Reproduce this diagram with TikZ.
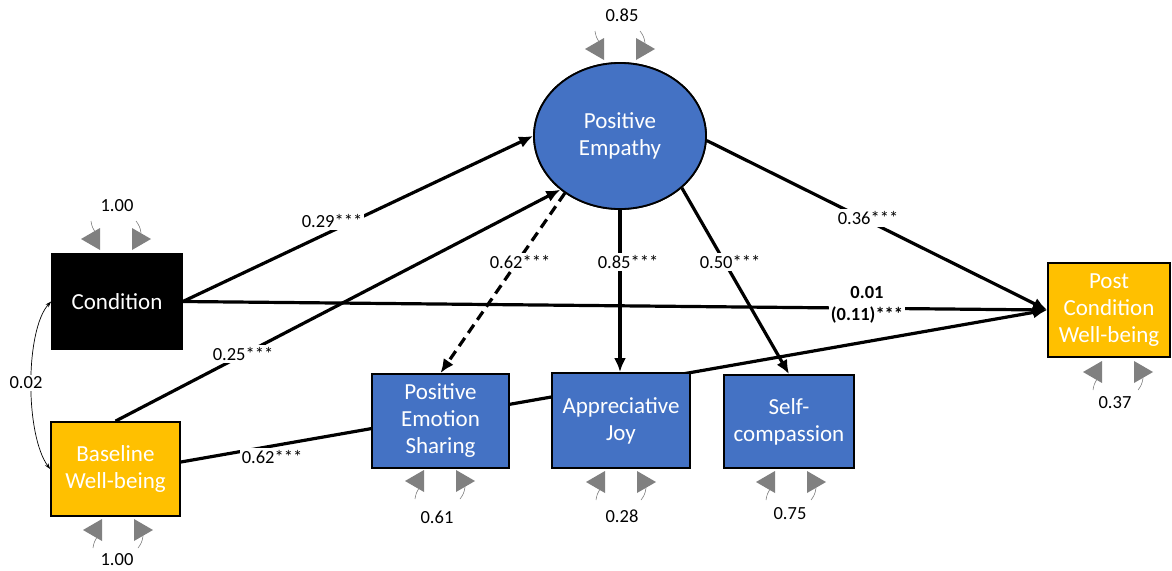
\documentclass[tikz,border=0pt]{standalone}
\usepackage{fontspec}
\setmainfont{Carlito}
\usetikzlibrary{arrows.meta,shapes.geometric}
\definecolor{vgray}{RGB}{128,128,128}
\definecolor{boxblue}{RGB}{68,114,196}
\definecolor{boxgold}{RGB}{255,192,0}
\tikzset{
  varbox/.style={draw=black, line width=1.8pt, text=white, align=center, inner sep=0pt,
    font=\fontsize{23}{27}\selectfont},
  path/.style={line width=3.2pt, -{Latex[length=14pt,width=12pt]}},
  lbl/.style={fill=white, inner sep=2pt, font=\fontsize{18.5}{21}\selectfont},
  vartop/.pic={
    \fill[vgray] (-35,0) -- (-16,-11) -- (-16,11) -- cycle;
    \fill[vgray] (35,0) -- (16,-11) -- (16,11) -- cycle;
    \draw[vgray, line width=0.6pt] (-25,-18) to[bend right=15] (-20,-6);
    \draw[vgray, line width=0.6pt] (20,-18) to[bend left=15] (25,-6);
  },
  varbot/.pic={
    \fill[vgray] (-35,0) -- (-16,-11) -- (-16,11) -- cycle;
    \fill[vgray] (35,0) -- (16,-11) -- (16,11) -- cycle;
    \draw[vgray, line width=0.6pt] (-25,18) to[bend left=15] (-20,6);
    \draw[vgray, line width=0.6pt] (20,18) to[bend right=15] (25,6);
  }
}
\begin{document}
\begin{tikzpicture}[x=1pt,y=-1pt]
\useasboundingbox (0,0) rectangle (1172,570);
% nodes (placed first for anchors, drawn later on top)
\path
  node[varbox, ellipse, fill=boxblue, minimum width=172, minimum height=146] (E) at (620,136) {Positive\\Empathy}
  node[varbox, fill=black, minimum width=130, minimum height=95] (Cond) at (117,301.5) {Condition}
  node[varbox, fill=boxgold, minimum width=129, minimum height=94] (Base) at (115.5,469) {Baseline\\Well-being}
  node[varbox, fill=boxblue, minimum width=137, minimum height=94] (PES) at (440.5,421) {Positive\\Emotion\\Sharing}
  node[varbox, fill=boxblue, minimum width=138, minimum height=95] (AJ) at (621,420.5) {Appreciative\\Joy}
  node[varbox, fill=boxblue, minimum width=130, minimum height=93] (SC) at (789,421.5) {Self-\\compassion}
  node[varbox, fill=boxgold, minimum width=122, minimum height=94] (Post) at (1109,310) {Post\\Condition\\Well-being};
% connectors
\draw[path] (Cond.east) -- (E.west);
\draw[path] (Base.north) -- (E.222);
\draw[path, dashed, dash pattern=on 10pt off 6pt] (E.226) -- (PES.north);
\draw[path] (E.south) -- (E.south |- AJ.north);
\draw[path] (E.320) -- (SC.north);
\draw[path] (E.357) -- (Post.west);
\draw[path] (Cond.east) -- (Post.west);
\draw[path] ([yshift=7pt]Base.east) -- (Post.west);
\draw[line width=0.7pt, {Stealth[length=6pt,width=4pt]}-{Stealth[length=6pt,width=4pt]}]
  (Cond.west) .. controls (25,330) and (25,435) .. (Base.west);
% edge labels
\node[lbl] (l1) at (332,221) {0.29***};
\node[lbl] (l2) at (243,354) {0.25***};
\node[lbl] (l3) at (272,457) {0.62***};
\node[lbl] (l4) at (520,262) {0.62***};
\node[lbl] (l5) at (628,262) {0.85***};
\node[lbl] (l6) at (730,262) {0.50***};
\node[lbl] (l7) at (868,218) {0.36***};
\node[lbl, align=center, font=\fontsize{18.5}{22}\selectfont\bfseries] (l8) at (867,305) {0.01\\(0.11)***};
\node[lbl] (l9) at (26,383) {0.02};
% draw the boxes on top
\path
  node[varbox, ellipse, fill=boxblue, minimum width=172, minimum height=146] at (620,136) {Positive\\Empathy}
  node[varbox, fill=black, minimum width=130, minimum height=95] at (117,301.5) {Condition}
  node[varbox, fill=boxgold, minimum width=129, minimum height=94] at (115.5,469) {Baseline\\Well-being}
  node[varbox, fill=boxblue, minimum width=137, minimum height=94] at (440.5,421) {Positive\\Emotion\\Sharing}
  node[varbox, fill=boxblue, minimum width=138, minimum height=95] at (621,420.5) {Appreciative\\Joy}
  node[varbox, fill=boxblue, minimum width=130, minimum height=93] at (789,421.5) {Self-\\compassion}
  node[varbox, fill=boxgold, minimum width=122, minimum height=94] at (1109,310) {Post\\Condition\\Well-being};
% variances
\pic at (620,49) {vartop};
\node[lbl] (v1) at (622,15) {0.85};
\pic at (116,239) {vartop};
\node[lbl] (v2) at (117,206) {1.00};
\pic at (118,530) {varbot};
\node[lbl] (v3) at (117,560) {1.00};
\pic at (440,481) {varbot};
\node[lbl] (v4) at (437,517) {0.61};
\pic at (621,482) {varbot};
\node[lbl] (v5) at (622,516) {0.28};
\pic at (791,482) {varbot};
\node[lbl] (v6) at (790,514) {0.75};
\pic at (1118,372) {varbot};
\node[lbl] (v7) at (1115,403) {0.37};
\end{tikzpicture}
\end{document}
